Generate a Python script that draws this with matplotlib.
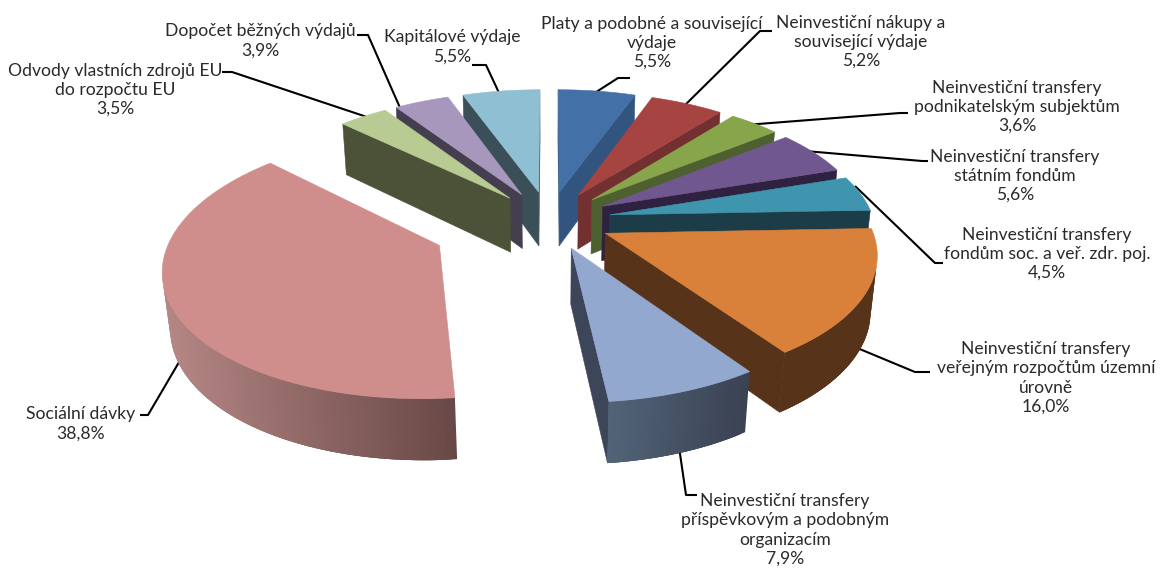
import numpy as np
import matplotlib
matplotlib.use("Agg")
import matplotlib.pyplot as plt
from matplotlib.colors import to_rgb

# data
names = ["Platy a podobné a související\nvýdaje", "Neinvestiční nákupy a\nsouvisející výdaje",
         "Neinvestiční transfery\npodnikatelským subjektům", "Neinvestiční transfery\nstátním fondům",
         "Neinvestiční transfery\nfondům soc. a veř. zdr. poj.",
         "Neinvestiční transfery\nveřejným rozpočtům územní\núrovně",
         "Neinvestiční transfery\npříspěvkovým a podobným\norganizacím", "Sociální dávky",
         "Odvody vlastních zdrojů EU\ndo rozpočtu EU", "Dopočet běžných výdajů", "Kapitálové výdaje"]
values = [5.5, 5.2, 3.6, 5.6, 4.5, 16.0, 7.9, 38.8, 3.5, 3.9, 5.5]

# styles
top_colors = ["#4470A8", "#A64442", "#87A54A", "#71578F", "#3F95AE", "#D9803A",
              "#92A8CF", "#CF8E8C", "#B8CB92", "#A897BC", "#8FBFD2"]
side_colors = ["#32557F", "#723030", "#4F6030", "#2F2140", "#1C3C47", "#57331A",
               "#3D4558", "#684846", "#4B5238", "#443E4F", "#3A4F57"]
rim_light = ["#32557F", "#723030", "#4F6030", "#2F2140", "#1C3C47", "#57331A",
             "#526478", "#B58785", "#4B5238", "#443E4F", "#3A4F57"]
rim_dark = ["#32557F", "#723030", "#4F6030", "#2F2140", "#1C3C47", "#57331A",
            "#3A4152", "#684846", "#4B5238", "#443E4F", "#3A4F57"]
explode = [0.235, 0.235, 0.235, 0.235, 0.235, 0.235, 0.235, 0.45, 0.235, 0.235, 0.235]

# label centres and leader paths
label_xy = [(652, 43), (861, 42), (1017, 107), (1015, 176), (1047, 254), (1046, 378),
            (785, 530), (81, 424), (115, 90), (260, 41), (452, 47)]
leaders = [[(590, 96), (618, 78), (630, 78)], [(680, 110), (760, 31), (772, 31)],
           [(745, 125), (900, 113), (908, 113)], [(805, 151), (922, 161), (928, 161)],
           [(855, 186), (935, 263), (943, 263)], [(850, 345), (915, 372), (930, 372)],
           [(678, 440), (686, 495), (697, 495)], [(182, 357), (148, 415), (140, 415)],
           [(370, 118), (232, 72), (222, 72)], [(401, 110), (368, 35), (357, 35)],
           [(500, 95), (486, 65), (472, 65)]]

CX, CY, A, B, K, H, M = 549, 220, 264, 124, 0.14, 56, 0.02


def project(X, Y, d=0.0):
    D = 1 - K * np.asarray(Y) + M * d
    return CX + A * np.asarray(X) / D, CY + (B * np.asarray(Y) + H * d) / D


fig = plt.figure(figsize=(11.6, 5.7), dpi=100)
ax = fig.add_axes([0, 0, 1, 1])
ax.set_xlim(0, 1160)
ax.set_ylim(570, 0)
ax.axis("off")


def area(p):
    p = np.asarray(p)
    x, y = p[:, 0], p[:, 1]
    return 0.5 * np.sum(x * np.roll(y, -1) - y * np.roll(x, -1))


def quad(a, b, c, e, color, z):
    pts = [a, b, c, e]
    if area(pts) < 0:
        ax.fill(*zip(*pts), color=color, lw=0.4, zorder=z)


edges = np.concatenate([[0], np.cumsum(values)]) / np.sum(values) * 2 * np.pi
slices = []
for i in range(len(values)):
    t0, t1 = edges[i], edges[i + 1]
    tm = (t0 + t1) / 2
    ox, oy = explode[i] * np.sin(tm), -explode[i] * np.cos(tm)
    slices.append((oy - 0.5 * np.cos(tm), i, t0, t1, tm, ox, oy))

for order, (_, i, t0, t1, tm, ox, oy) in enumerate(sorted(slices, key=lambda s: s[0])):
    z = 10 + order
    n = max(4, int((t1 - t0) * 60))
    th = np.linspace(t0, t1, n)
    X, Y = ox + np.sin(th), oy - np.cos(th)
    xt, yt = project(X, Y, 0)
    xb, yb = project(X, Y, 1)
    ax0, ay0 = project(ox, oy, 0)
    bx0, by0 = project(ox, oy, 1)
    # radial walls
    quad((ax0, ay0), (xt[0], yt[0]), (xb[0], yb[0]), (bx0, by0), side_colors[i], z)
    quad((xt[-1], yt[-1]), (ax0, ay0), (bx0, by0), (xb[-1], yb[-1]), side_colors[i], z)
    # outer wall, overlapping strips so that no seams show
    xmin, xmax = xt.min(), xt.max()
    c0, c1 = np.array(to_rgb(rim_light[i])), np.array(to_rgb(rim_dark[i]))
    for j in range(n - 1):
        k = min(j + 3, n - 1)
        f = (0.5 * (xt[j] + xt[j + 1]) - xmin) / max(xmax - xmin, 1)
        visible = area([(xt[j], yt[j]), (xt[j + 1], yt[j + 1]), (xb[j + 1], yb[j + 1]), (xb[j], yb[j])]) < 0
        if visible:
            ax.fill(np.r_[xt[j:k + 1], xb[j:k + 1][::-1]], np.r_[yt[j:k + 1], yb[j:k + 1][::-1]],
                    color=tuple(c0 + (c1 - c0) * f), lw=0, zorder=z)
    # top face
    ax.fill(np.r_[ax0, xt], np.r_[ay0, yt], color=top_colors[i], lw=0.4, zorder=z + 0.5)
    # leader
    ax.plot(*zip(*leaders[i]), color="black", lw=1.5, zorder=2, solid_capstyle="butt")
    # label
    val = f"{values[i]:.1f}".replace(".", ",")
    ax.text(*label_xy[i], f"{names[i]}\n{val}%", ha="center", va="center", multialignment="center",
            family="Lato", fontsize=12.6, color="#2a2a2a", linespacing=1.24, zorder=50)

fig.savefig("out.png", dpi=100, facecolor="white")
